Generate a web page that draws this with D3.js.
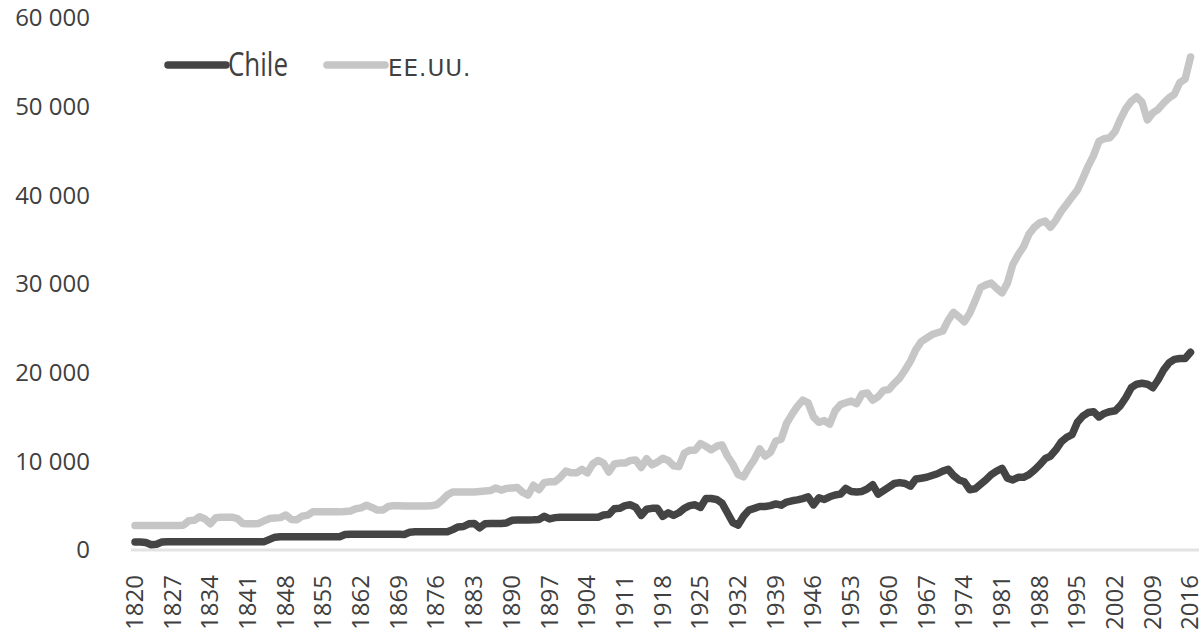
<!DOCTYPE html>
<html>
<head>
<meta charset="utf-8">
<script src="https://cdn.jsdelivr.net/npm/d3@7"></script>
<style>
  body { margin: 0; background: #fff; }
  text { font-family: "Open Sans", sans-serif; fill: #404040; }
</style>
</head>
<body>
<svg id="chart" width="1203" height="636"></svg>
<script>
// data (GDP per capita), one value per year
var firstYear = 1820;
var chile = [
  900,900,850,600,650,900,940,940,940,940,
  940,940,940,940,940,940,940,940,940,940,
  940,940,940,940,940,1200,1450,1500,1500,1500,
  1500,1500,1500,1500,1500,1500,1500,1500,1500,1750,
  1770,1770,1770,1770,1770,1770,1770,1770,1770,1770,
  1750,2000,2050,2050,2050,2050,2050,2050,2050,2300,
  2600,2650,2950,3000,2500,2950,3000,3000,3000,3050,
  3350,3380,3380,3380,3400,3450,3800,3500,3650,3700,
  3700,3700,3700,3700,3700,3700,3700,3950,4000,4650,
  4700,5000,5100,4800,3900,4600,4700,4700,3800,4200,
  3900,4200,4700,5000,5100,4800,5800,5800,5700,5300,
  4200,3100,2800,3800,4500,4700,4900,4900,5000,5200,
  5050,5400,5550,5650,5800,6000,5100,5900,5700,6000,
  6200,6300,6950,6600,6550,6600,6900,7350,6300,6700,
  7100,7500,7600,7500,7200,8000,8100,8200,8400,8600,
  8900,9100,8400,7900,7700,6800,6900,7400,7900,8500,
  8900,9200,8100,7900,8200,8200,8500,9000,9600,10300,
  10600,11300,12200,12700,13000,14400,15100,15500,15600,15000,
  15400,15600,15700,16300,17200,18300,18700,18800,18700,18300,
  19200,20300,21100,21500,21600,21600,22300
];
var usa = [
  2750,2750,2750,2750,2760,2760,2760,2760,2770,2800,
  3300,3350,3750,3500,2950,3650,3700,3700,3700,3550,
  3000,2950,2950,3000,3300,3550,3600,3650,3950,3450,
  3400,3800,3900,4300,4300,4300,4300,4300,4300,4350,
  4400,4650,4750,5050,4800,4500,4500,4900,5000,5000,
  4950,4950,4950,4950,4950,4980,5100,5600,6200,6550,
  6550,6550,6550,6550,6600,6650,6700,7000,6750,6950,
  7000,7050,6500,6200,7300,6800,7600,7700,7700,8200,
  8900,8700,8700,9100,8700,9700,10100,9800,8800,9700,
  9800,9800,10100,10150,9300,10300,9600,9900,10350,10100,
  9500,9400,10900,11250,11250,12000,11700,11300,11700,11850,
  10600,9700,8500,8250,9300,10200,11400,10600,11000,12300,
  12500,14300,15300,16200,16900,16600,15000,14400,14600,14200,
  15700,16400,16600,16800,16500,17600,17700,16900,17300,18000,
  18100,18800,19400,20300,21300,22600,23500,23900,24300,24500,
  24700,25900,26800,26300,25750,26700,28100,29600,29900,30100,
  29500,29000,30100,32200,33300,34200,35600,36400,36900,37100,
  36400,37200,38200,39000,39800,40600,41900,43300,44500,46100,
  46400,46500,47200,48600,49800,50600,51100,50500,48500,49300,
  49700,50400,51000,51400,52700,53100,55600
];
var years = chile.map(function(d, i) { return firstYear + i; });
var yTicks = [0, 10000, 20000, 30000, 40000, 50000, 60000];
var seriesNames = ["Chile", "EE.UU."];
var seriesColors = ["#444444", "#c6c6c6"];

var svg = d3.select("#chart");

var x = d3.scalePoint()
  .domain(years)
  .range([135, 1190.5]);

var y = d3.scaleLinear()
  .domain([0, 60000])
  .range([550, 18]);

// category axis baseline
svg.append("line")
  .attr("x1", 131).attr("x2", 1199)
  .attr("y1", y(0)).attr("y2", y(0))
  .style("stroke", "#e3e3e3")
  .style("stroke-width", 3);

// y labels (no grid lines)
var fmt = function(v) { return d3.format(",")(v).replace(/,/g, " "); };
svg.selectAll(".ylab")
  .data(yTicks)
  .enter()
  .append("text")
  .attr("class", "ylab")
  .attr("x", 90)
  .attr("y", function(d) { return y(d); })
  .attr("dy", "0.35em")
  .attr("text-anchor", "end")
  .style("font-size", "24px")
  .text(fmt);

// x labels every 7 years, rotated
var xTicks = years.filter(function(d) { return (d - firstYear) % 7 == 0; });
svg.selectAll(".xlab")
  .data(xTicks)
  .enter()
  .append("text")
  .attr("class", "xlab")
  .attr("transform", function(d) { return "translate(" + x(d) + ",575) rotate(-90)"; })
  .attr("dy", "0.33em")
  .attr("text-anchor", "end")
  .style("font-size", "24px")
  .text(function(d) { return d; });

var line = d3.line()
  .x(function(d, i) { return x(years[i]); })
  .y(function(d) { return y(d); });

// US first so Chile sits on top
[usa, chile].forEach(function(s) {
  var idx = s === chile ? 0 : 1;
  svg.append("path")
    .datum(s)
    .attr("d", line)
    .style("fill", "none")
    .style("stroke", seriesColors[idx])
    .style("stroke-width", 7.5)
    .style("stroke-linejoin", "round")
    .style("stroke-linecap", "round");
});

// legend
var legend = svg.append("g").attr("class", "legend");
legend.append("line")
  .attr("x1", 168).attr("x2", 226).attr("y1", 65).attr("y2", 65)
  .style("stroke", seriesColors[0]).style("stroke-width", 7.5)
  .style("stroke-linecap", "round");
legend.append("text")
  .attr("x", 228).attr("y", 76)
  .attr("textLength", 60).attr("lengthAdjust", "spacingAndGlyphs")
  .style("font-size", "33px")
  .text(seriesNames[0]);
legend.append("line")
  .attr("x1", 327).attr("x2", 385).attr("y1", 65).attr("y2", 65)
  .style("stroke", seriesColors[1]).style("stroke-width", 7.5)
  .style("stroke-linecap", "round");
legend.append("text")
  .attr("x", 388).attr("y", 76)
  .style("font-family", "DejaVu Sans")
  .style("font-size", "23px")
  .style("letter-spacing", "1px")
  .text(seriesNames[1]);
</script>
</body>
</html>
